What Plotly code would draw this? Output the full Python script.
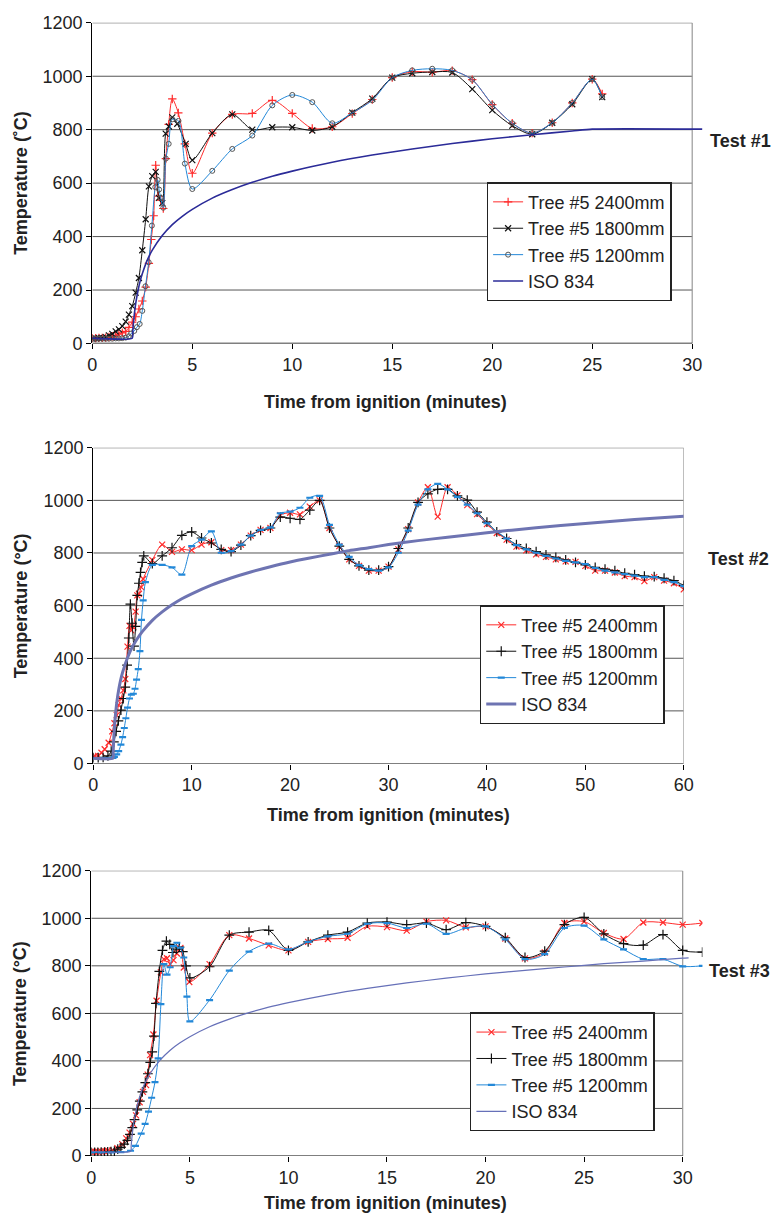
import plotly.graph_objects as go

# ---------------- Test #1 ----------------
t1_red = [0, 0.17, 0.33, 0.5, 0.67, 0.83, 1.0, 1.17, 1.33, 1.5, 1.67, 1.83, 2.0, 2.17, 2.33, 2.5, 2.67, 2.83,
          2.95, 3.07, 3.17, 3.3, 3.42, 3.55, 3.68, 3.82, 4.0, 4.3, 4.63, 5,
          6, 7, 8, 9, 10, 11, 12, 13, 14, 15, 16, 17, 18, 19, 20, 21, 22, 23, 24, 25, 25.5]
T1_red = [20, 20, 21, 21, 22, 24, 27, 30, 35, 40, 45, 60, 80, 100, 129, 159, 211, 300,
          389, 478, 667, 551, 536, 505, 692, 820, 915, 863, 747, 637,
          787, 857, 861, 910, 861, 805, 811, 860, 913, 995, 1017, 1015, 1021, 987, 894, 824, 787, 826, 900, 989, 934]

t1_black = [0, 0.17, 0.33, 0.5, 0.67, 0.83, 1.0, 1.17, 1.33, 1.5, 1.67, 1.83, 2.0, 2.17, 2.33, 2.5, 2.67, 2.83,
            3.0, 3.17, 3.33, 3.5, 3.67, 3.83, 4.0, 4.25, 4.67, 5,
            6, 7, 8, 9, 10, 11, 12, 13, 14, 15, 16, 17, 18, 19, 20, 21, 22, 23, 24, 25, 25.5]
T1_black = [18, 19, 20, 21, 24, 30, 36, 45, 53, 65, 82, 108, 140, 190, 245, 349, 465, 588,
            626, 642, 545, 525, 785, 812, 846, 822, 747, 686,
            787, 857, 800, 809, 809, 797, 811, 864, 916, 995, 1011, 1016, 1014, 952, 873, 815, 783, 826, 895, 989, 922]

t1_blue = [0, 0.17, 0.33, 0.5, 0.67, 0.83, 1.0, 1.17, 1.33, 1.5, 1.67, 1.83,
           1.94, 2.1, 2.23, 2.37, 2.5, 2.66, 2.82, 2.98, 3.15, 3.27, 3.34, 3.42, 3.55, 3.68, 3.82, 4.0, 4.31, 4.63, 5,
           6, 7, 8, 9, 10, 11, 12, 13, 14, 15, 16, 17, 18, 19, 20, 21, 22, 23, 24, 25, 25.5]
T1_blue = [18, 18, 18, 18, 18, 18, 18, 19, 19, 20, 22, 27,
           37, 47, 61, 73, 122, 214, 304, 441, 585, 612, 576, 545, 508, 692, 747, 839, 833, 673, 578,
           646, 728, 778, 891, 930, 903, 824, 863, 910, 995, 1022, 1028, 1022, 987, 895, 824, 787, 826, 900, 989, 922]

t1_iso = [0, 2.0, 2.02, 2.05, 2.1, 2.15, 2.2, 2.3, 2.4, 2.5, 2.75, 3, 3.5, 4, 4.5, 5, 6, 7, 8, 9, 10,
          12, 14, 16, 18, 20, 22, 24, 25, 30.5]
T1_iso = [20, 20, 42, 70, 108, 138, 163, 203, 235, 261, 312, 349, 404, 445, 476, 502, 544, 576, 603, 626, 645,
          678, 705, 728, 748, 766, 781, 795, 802, 802]

# ---------------- Test #2 ----------------
t2_red = [0, 0.17, 0.5, 0.83, 1.16, 1.56, 1.92, 2.15, 2.38, 2.58, 2.81, 3.05, 3.25, 3.48, 3.68, 3.87, 4.07,
          4.3, 4.47, 4.64, 4.87, 5.07] + list(range(6, 61))
T2_red = [25, 28, 29, 41, 54, 79, 122, 153, 184, 222, 247, 278, 321, 444, 523, 506, 518, 577, 639, 645, 670, 701,
          773, 832, 804, 814, 811, 832, 841, 811, 811, 832, 866, 888, 895, 944, 953,
          947, 976, 1000, 895, 826, 776, 751, 733, 733, 748, 814, 891, 992, 1050, 938,
          1050, 1019, 982, 948, 910, 876, 851, 824, 810, 795, 785, 776, 768, 766, 751,
          733, 733, 726, 712, 708, 693, 708, 695, 685, 662]

t2_black = [0, 0.5, 1.0, 1.49, 1.82, 2.09, 2.32, 2.55, 2.81, 3.05, 3.25, 3.44, 3.61, 3.77, 3.94, 4.14, 4.30,
            4.47, 4.64, 4.8, 4.97, 5.13] + list(range(6, 61))
T2_black = [22, 22, 23, 29, 47, 82, 122, 162, 203, 247, 290, 374, 477, 606, 533, 446, 521, 639, 685, 726, 764, 789,
            760, 789, 820, 867, 880, 857, 838, 814, 805, 830, 866, 886, 895, 936, 932,
            928, 963, 1000, 895, 826, 776, 751, 735, 735, 748, 817, 895, 992, 1025, 1042,
            1042, 1017, 1001, 955, 917, 880, 855, 832, 817, 805, 793, 783, 774, 764, 755,
            745, 739, 733, 723, 718, 712, 710, 704, 695, 677]

t2_blue = [0, 0.5, 1.0, 1.5, 2.0, 2.15, 2.38, 2.58, 2.81, 2.98, 3.15, 3.31, 3.48, 3.68, 3.87, 4.07, 4.24, 4.4,
           4.57, 4.74, 4.9, 5.07, 5.3] + list(range(6, 61))
T2_blue = [20, 20, 20, 20, 21, 25, 35, 47, 72, 100, 135, 172, 212, 247, 262, 265, 284, 319, 359, 427, 546, 620, 689,
           755, 755, 745, 718, 826, 851, 882, 801, 807, 832, 866, 888, 897, 951, 957,
           972, 1010, 1017, 907, 832, 785, 754, 739, 733, 745, 801, 885, 984, 1042, 1063,
           1042, 1013, 984, 951, 913, 882, 855, 830, 814, 801, 789, 779, 770, 764, 758,
           743, 733, 726, 720, 714, 708, 708, 698, 689, 674]

t2_iso = [0, 2.0, 2.02, 2.05, 2.1, 2.15, 2.2, 2.3, 2.4, 2.5, 2.75, 3, 3.5, 4, 4.5, 5, 6, 7, 8, 9, 10,
          12, 14, 16, 18, 20, 22, 24, 26, 28, 30, 33, 36, 40, 45, 50, 55, 60]
T2_iso = [20, 20, 42, 70, 108, 138, 163, 203, 235, 261, 312, 349, 404, 445, 476, 502, 544, 576, 603, 626, 645,
          678, 705, 728, 748, 766, 781, 795, 809, 820, 832, 847, 860, 877, 896, 912, 927, 940]

# ---------------- Test #3 ----------------
t3_red = [0, 0.17, 0.33, 0.5, 0.67, 0.83, 1.08, 1.32, 1.57, 1.77, 1.94, 2.12, 2.27, 2.45, 2.62, 2.78, 2.86, 2.98,
          3.15, 3.31, 3.53, 3.68, 3.84, 4.0, 4.17, 4.34, 4.52, 4.69, 4.97] + list(range(6, 32))
T3_red = [18, 18, 18, 19, 20, 22, 25, 33, 50, 74, 98, 135, 171, 226, 270, 298, 342, 424,
          511, 653, 773, 828, 832, 807, 824, 852, 875, 793, 732,
          807, 929, 915, 886, 865, 901, 913, 918, 966, 963, 948, 986, 991, 962, 966, 915, 831, 856, 980, 986,
          938, 913, 982, 982, 973, 980]

t3_black = [0, 0.17, 0.33, 0.5, 0.67, 0.83, 1.0, 1.17, 1.34, 1.5, 1.67, 1.83, 1.96, 2.08, 2.19, 2.33, 2.46, 2.59,
            2.74, 2.87, 2.99, 3.09, 3.18, 3.28, 3.45, 3.61, 3.81, 3.98, 4.14, 4.31, 4.47, 4.64, 4.8, 5.0] + list(range(6, 32))
T3_black = [15, 15, 15, 16, 16, 17, 18, 20, 29, 36, 50, 66, 91, 119, 153, 194, 231, 270,
            309, 346, 394, 438, 504, 642, 777, 865, 904, 890, 856, 870, 879, 860, 800, 749,
            796, 929, 942, 949, 865, 901, 929, 942, 980, 984, 973, 980, 952, 982, 966, 918, 835, 862, 973, 1004,
            934, 893, 887, 931, 865, 858]

t3_blue = [0, 0.5, 1.0, 1.5, 1.99, 2.24, 2.53, 2.73, 2.9, 3.06, 3.23, 3.39, 3.53, 3.68, 3.84, 4.0, 4.17, 4.34,
           4.52, 4.69, 4.85, 5.0] + list(range(6, 32))
T3_blue = [15, 15, 15, 16, 22, 43, 94, 135, 187, 245, 311, 411, 639, 807, 763, 794, 883, 897,
           876, 835, 670, 566,
           656, 780, 860, 893, 869, 901, 924, 935, 977, 980, 959, 977, 934, 959, 966, 911, 828, 849, 959, 969,
           911, 869, 828, 828, 798, 800]

t3_iso = [0, 2.0, 2.02, 2.05, 2.1, 2.15, 2.2, 2.3, 2.4, 2.5, 2.75, 3, 3.5, 4, 4.5, 5, 6, 7, 8, 9, 10,
          12, 14, 16, 18, 20, 22, 24, 26, 28, 30, 30.3]
T3_iso = [20, 20, 42, 70, 108, 138, 163, 203, 235, 261, 312, 349, 404, 445, 476, 502, 544, 576, 603, 626, 645,
          678, 705, 728, 748, 766, 781, 795, 809, 820, 832, 833]

series_names = ["Tree #5 2400mm", "Tree #5 1800mm", "Tree #5 1200mm", "ISO 834"]
y_ticks = [0, 200, 400, 600, 800, 1000, 1200]

RED = "#FF2B2B"
BLACK = "#111111"
BLUE = "#2388D8"
FONT = "Liberation Sans, Arial, Helvetica, sans-serif"

W, H = 784, 1226

panels = [
    dict(l=89, r=721, t=13, b=339, xend=31, xframe=30, dtick=5),
    dict(l=90, r=692, t=445, b=766, xend=60, xframe=60, dtick=10),
    dict(l=88, r=711, t=875, b=1165, xend=31, xframe=30, dtick=5),
]

fig = go.Figure()

def add_series(idx, data, markers, iso_style):
    xa = "x" if idx == 0 else f"x{idx+1}"
    ya = "y" if idx == 0 else f"y{idx+1}"
    lg = "legend" if idx == 0 else f"legend{idx+1}"
    colors = [RED, BLACK, BLUE]
    for k in range(3):
        tx, ty = data[k]
        sym, size, lw = markers[k]
        mcol = "#555555" if (k == 2 and idx == 0) else colors[k]
        fig.add_trace(go.Scatter(
            x=tx, y=ty, name=series_names[k], mode="lines+markers",
            line=dict(color=colors[k], width=1.0, shape="spline", smoothing=0.8),
            marker=dict(symbol=sym, size=size, color=mcol, line=dict(width=lw, color=mcol)),
            xaxis=xa, yaxis=ya, legend=lg))
    tx, ty = data[3]
    fig.add_trace(go.Scatter(
        x=tx, y=ty, name=series_names[3], mode="lines",
        line=dict(color=iso_style[0], width=iso_style[1], shape="spline", smoothing=0.6),
        xaxis=xa, yaxis=ya, legend=lg))

add_series(0, [(t1_red, T1_red), (t1_black, T1_black), (t1_blue, T1_blue), (t1_iso, T1_iso)],
           [("cross-thin-open", 6, 1.2), ("x-thin-open", 6, 1.2), ("circle-open", 5, 1.0)],
           ("#2B2B98", 1.6))
add_series(1, [(t2_red, T2_red), (t2_black, T2_black), (t2_blue, T2_blue), (t2_iso, T2_iso)],
           [("x-thin-open", 6, 1.2), ("cross-thin-open", 7, 1.2), ("line-ew-open", 5, 2.2)],
           ("#6E74B2", 3.0))
add_series(2, [(t3_red, T3_red), (t3_black, T3_black), (t3_blue, T3_blue), (t3_iso, T3_iso)],
           [("x-thin-open", 6, 1.2), ("cross-thin-open", 7, 1.2), ("line-ew-open", 5, 2.2)],
           ("#6670B8", 1.2))

shapes = []
annotations = []
layout = {}
y_titles = ["Temperature (˚C)", "Temperature (°C)", "Temperature (°C)"]
test_labels = ["Test #1", "Test #2", "Test #3"]
legend_pos = [(491, 175), (484, 605), (474, 1019)]
xtitle_pos = [(388, 398), (391, 818), (388, 1213)]
test_pos = [(717, 133), (715, 558), (716, 977)]

for i, p in enumerate(panels):
    xn = "xaxis" if i == 0 else f"xaxis{i+1}"
    yn = "yaxis" if i == 0 else f"yaxis{i+1}"
    xr = "x" if i == 0 else f"x{i+1}"
    yr = "y" if i == 0 else f"y{i+1}"
    layout[xn] = dict(domain=[p["l"] / W, p["r"] / W], range=[0, p["xend"]], anchor=yr,
                      tick0=0, dtick=p["dtick"], ticks="outside", ticklen=5, tickcolor="#000",
                      showgrid=False, zeroline=False, showline=False,
                      tickfont=dict(size=18, color="#222", family=FONT))
    layout[yn] = dict(domain=[1 - p["b"] / H, 1 - p["t"] / H], range=[0, 1200], anchor=xr,
                      tickvals=y_ticks, ticks="outside", ticklen=5, tickcolor="#000",
                      showgrid=False, zeroline=False, showline=True, linecolor="#000", linewidth=1.2,
                      tickfont=dict(size=18, color="#222", family=FONT))
    for v in y_ticks[1:]:
        shapes.append(dict(type="line", xref=xr, yref=yr, x0=0, x1=p["xframe"], y0=v, y1=v,
                           line=dict(color="#555555", width=1), layer="below"))
    shapes.append(dict(type="line", xref=xr, yref=yr, x0=0, x1=p["xframe"], y0=0, y1=0,
                       line=dict(color="#000", width=1.2), layer="above"))
    shapes.append(dict(type="line", xref=xr, yref=yr, x0=p["xframe"], x1=p["xframe"], y0=0, y1=1200,
                       line=dict(color="#999999", width=1.2), layer="below"))
    lg = "legend" if i == 0 else f"legend{i+1}"
    layout[lg] = dict(x=legend_pos[i][0] / W, y=1 - legend_pos[i][1] / H, xanchor="left", yanchor="top",
                      bgcolor="#FFFFFF", bordercolor="#222", borderwidth=1.5,
                      font=dict(size=18, color="#222", family=FONT), tracegroupgap=0, itemwidth=30)
    annotations.append(dict(text=f"<b>{y_titles[i]}</b>", x=16 / W, y=1 - ((p["t"] + p["b"]) / 2) / H,
                            xref="paper", yref="paper", textangle=-90, showarrow=False,
                            xanchor="center", yanchor="middle",
                            font=dict(size=18, color="#222", family=FONT)))
    annotations.append(dict(text="<b>Time from ignition (minutes)</b>", x=xtitle_pos[i][0] / W,
                            y=1 - xtitle_pos[i][1] / H, xref="paper", yref="paper", showarrow=False,
                            xanchor="center", yanchor="middle",
                            font=dict(size=18, color="#222", family=FONT)))
    annotations.append(dict(text=f"<b>{test_labels[i]}</b>", x=test_pos[i][0] / W,
                            y=1 - test_pos[i][1] / H, xref="paper", yref="paper", showarrow=False,
                            xanchor="left", yanchor="middle",
                            font=dict(size=18, color="#222", family=FONT)))

fig.update_layout(width=W, height=H, margin=dict(l=0, r=0, t=0, b=0),
                  paper_bgcolor="#FFFFFF", plot_bgcolor="#FFFFFF",
                  shapes=shapes, annotations=annotations, showlegend=True,
                  font=dict(family=FONT, color="#222"), **layout)

fig.write_html("out.html")
